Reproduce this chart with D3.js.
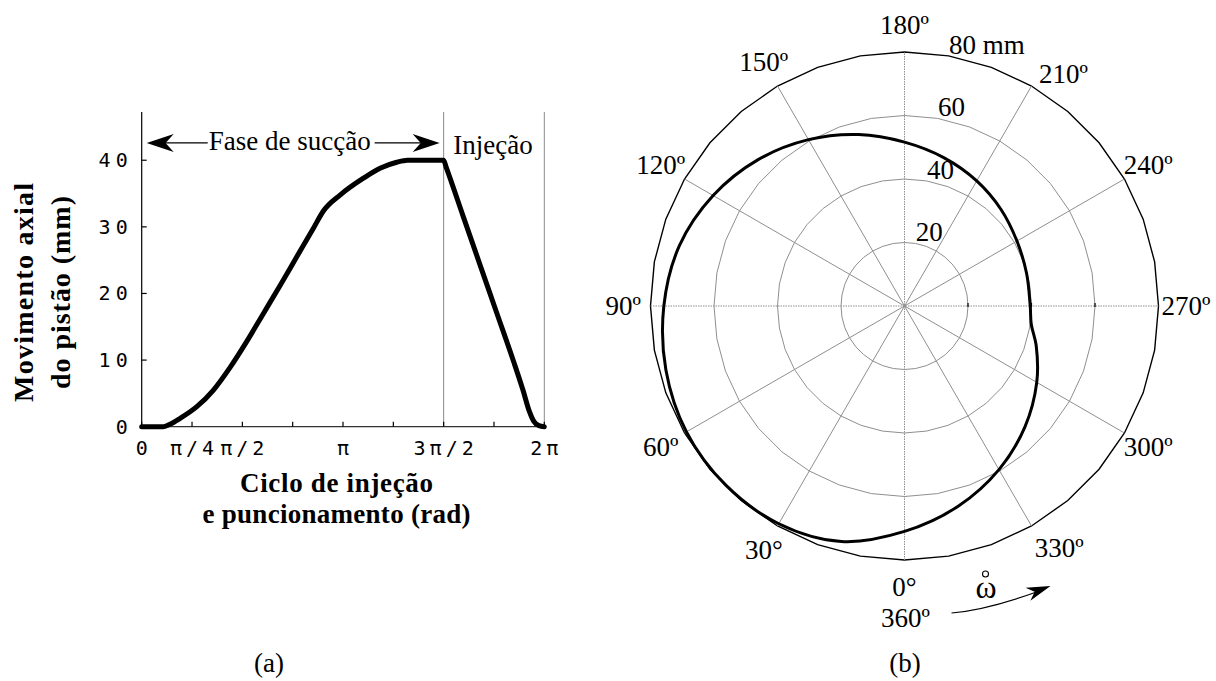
<!DOCTYPE html>
<html>
<head>
<meta charset="utf-8">
<script src="https://cdn.jsdelivr.net/npm/d3@7"></script>
<style>
  body { margin: 0; background: #fff; }
  svg { display: block; background: #fff; }
  .serif { font-family: "Liberation Serif", "Times New Roman", serif; }
  .mono { font-family: "DejaVu Sans Mono", "Liberation Mono", monospace; }
</style>
</head>
<body>
<svg id="fig" width="1216" height="681"></svg>
<script>
// ---------- Panel (a): axial piston displacement over one cycle ----------
const cycleAngle = [0, 0.34, 0.45, 0.60, 0.86, 1.12, 1.38, 1.64, 1.90, 2.16, 2.42, 2.68, 2.83,
                    3.10, 3.46, 3.72, 3.98, 4.15, 4.712, 4.75, 5.02, 5.28, 5.54, 5.80, 5.95,
                    6.05, 6.12, 6.20, 6.283];
const displacementMm = [0, 0, 0.4, 1.25, 3.0, 5.5, 8.9, 12.8, 17.0, 21.2, 25.5, 29.8, 32.3,
                        34.8, 37.3, 38.8, 39.7, 40, 40, 39.0, 31.5, 24.3, 17.1, 9.9, 5.5,
                        2.3, 0.8, 0.15, 0];
const yTicks = [0, 10, 20, 30, 40];
const xMinorTicks = d3.range(0, 9).map(k => k * Math.PI / 4);
const xLabelValues = [0, Math.PI / 4, Math.PI / 2, Math.PI, 3 * Math.PI / 2, 2 * Math.PI];
const xLabelText = ["0", "π/4", "π/2", "π", "3π/2", "2π"];
const phaseBounds = [0, 3 * Math.PI / 2, 2 * Math.PI];
const phaseNames = ["Fase de sucção", "Injeção"];
const yTitleLines = ["Movimento axial", "do pistão (mm)"];
const xTitleLines = ["Ciclo de injeção", "e puncionamento (rad)"];

// ---------- Panel (b): polar trace of the radial position ----------
const crankDeg = [0, 15, 30, 45, 60, 75, 90, 105, 120, 135, 150, 165, 180, 195, 210, 225,
                  240, 255, 270, 278, 287, 300, 315, 330, 345];
const radiusMm = [71.0, 76.8, 79.2, 79.7, 79.3, 77.8, 75.8, 73.4, 69.6, 65.2, 60.5, 55.9,
                  51.6, 48.3, 45.5, 43.0, 40.9, 39.8, 39.6, 40.3, 43.4, 48.1, 53.7, 59.5, 65.3];
const ringValues = [20, 40, 60, 80];
const ringLabels = ["20", "40", "60", "80 mm"];
const spokeAngles = [0, 30, 60, 90, 120, 150];
const angleLabelDeg = [0, 30, 60, 90, 120, 150, 180, 210, 240, 270, 300, 330];
const angleLabelText = ["0°", "30°", "60º", "90º", "120º", "150º", "180º", "210º", "240º",
                        "270º", "300º", "330º"];

const svg = d3.select("#fig");
const serifSize = 27;

// ================= Panel (a) =================
const A = { left: 141.7, right: 544.3, top: 112, bottom: 426.7 };
const x = d3.scaleLinear().domain([0, 2 * Math.PI]).range([A.left, A.right]);
const y = d3.scaleLinear().domain([0, 47.24]).range([A.bottom, A.top]);

const ga = svg.append("g");

// phase boundary lines
ga.selectAll("line.bound").data(phaseBounds.slice(1)).join("line")
  .attr("x1", d => x(d)).attr("x2", d => x(d))
  .attr("y1", y(0)).attr("y2", y.range()[1])
  .attr("stroke", "#8a8a8a").attr("stroke-width", 1);

// axis lines
ga.append("line").attr("x1", x(0)).attr("x2", x(0)).attr("y1", y(0)).attr("y2", y.range()[1])
  .attr("stroke", "#000").attr("stroke-width", 1.2);
ga.append("line").attr("x1", x(0)).attr("x2", x(2 * Math.PI)).attr("y1", y(0)).attr("y2", y(0))
  .attr("stroke", "#333").attr("stroke-width", 1.2);

// inward ticks
ga.selectAll("line.xt").data(xMinorTicks).join("line")
  .attr("x1", d => x(d)).attr("x2", d => x(d))
  .attr("y1", y(0)).attr("y2", y(0) - 5)
  .attr("stroke", "#000").attr("stroke-width", 1.2);
ga.selectAll("line.yt").data(yTicks).join("line")
  .attr("x1", x(0)).attr("x2", x(0) + 5)
  .attr("y1", d => y(d)).attr("y2", d => y(d))
  .attr("stroke", "#000").attr("stroke-width", 1.2);

// tick labels
ga.selectAll("text.yl").data(yTicks).join("text")
  .attr("class", "mono")
  .attr("x", x(0) - 9).attr("y", d => y(d))
  .attr("text-anchor", "end").attr("dominant-baseline", "central")
  .attr("font-size", 20).attr("letter-spacing", 5)
  .text(d => d);
ga.selectAll("text.xl").data(xLabelValues).join("text")
  .attr("class", "mono")
  .attr("x", d => x(d) + 2).attr("y", y(0) + 21)
  .attr("text-anchor", "middle").attr("dominant-baseline", "central")
  .attr("font-size", 20).attr("letter-spacing", 4)
  .text((d, i) => xLabelText[i]);

// displacement curve
const curveA = d3.line()
  .x((d, i) => x(cycleAngle[i]))
  .y(d => y(d))
  .curve(d3.curveMonotoneX);
ga.append("path").datum(displacementMm)
  .attr("d", curveA)
  .attr("fill", "none").attr("stroke", "#000").attr("stroke-width", 5)
  .attr("stroke-linejoin", "round").attr("stroke-linecap", "round");

// phase annotations
function dart(g, tipX, tipY, angleDeg, len, wid) {
  g.append("path")
    .attr("d", `M0,0 L${-len},${-wid / 2} L${-len * 0.7},0 L${-len},${wid / 2} Z`)
    .attr("transform", `translate(${tipX},${tipY}) rotate(${angleDeg})`)
    .attr("fill", "#000");
}
const annY = y(42.6);
const suctionMid = (x(phaseBounds[0]) + x(phaseBounds[1])) / 2 - 3;
const suction = ga.append("text").attr("class", "serif")
  .attr("x", suctionMid).attr("y", annY + 7)
  .attr("text-anchor", "middle").attr("font-size", serifSize)
  .text(phaseNames[0]);
const sw = suction.node().getComputedTextLength();
const tipL = x(phaseBounds[0]) + 5, tipR = x(phaseBounds[1]) - 4;
ga.append("line").attr("x1", tipL + 10).attr("x2", suctionMid - sw / 2 - 1)
  .attr("y1", annY).attr("y2", annY).attr("stroke", "#000").attr("stroke-width", 1.2);
ga.append("line").attr("x1", suctionMid + sw / 2 + 4).attr("x2", tipR - 10)
  .attr("y1", annY).attr("y2", annY).attr("stroke", "#000").attr("stroke-width", 1.2);
dart(ga, tipL, annY, 180, 27, 18);
dart(ga, tipR, annY, 0, 27, 18);
ga.append("text").attr("class", "serif")
  .attr("x", (x(phaseBounds[1]) + x(phaseBounds[2])) / 2 - 1).attr("y", annY + 11)
  .attr("text-anchor", "middle").attr("font-size", serifSize)
  .text(phaseNames[1]);

// axis titles
const yTitle = ga.append("g").attr("transform", `translate(0,292.5) rotate(-90)`);
const yTitleBase = [33, 70], yTitleLen = [219, 193];
yTitleLines.forEach((t, i) => {
  yTitle.append("text").attr("class", "serif")
    .attr("x", 0).attr("y", yTitleBase[i])
    .attr("text-anchor", "middle").attr("font-size", 28).attr("font-weight", "bold")
    .attr("textLength", yTitleLen[i]).attr("lengthAdjust", "spacing")
    .text(t);
});
const xTitleBase = [492, 523], xTitleLen = [193, 268];
xTitleLines.forEach((t, i) => {
  ga.append("text").attr("class", "serif")
    .attr("x", 336.5).attr("y", xTitleBase[i])
    .attr("text-anchor", "middle").attr("font-size", 27).attr("font-weight", "bold")
    .attr("textLength", xTitleLen[i]).attr("lengthAdjust", "spacing")
    .text(t);
});
ga.append("text").attr("class", "serif")
  .attr("x", 269).attr("y", 672).attr("text-anchor", "middle").attr("font-size", serifSize)
  .text("(a)");

// ================= Panel (b) =================
const C = { x: 904.5, y: 306 };
const R = 254;
const r = d3.scaleLinear().domain([0, 80]).range([0, R]);
const toRad = deg => (deg + 180) * Math.PI / 180;   // 0° at bottom, increasing clockwise
const px = (deg, rad) => C.x + rad * Math.sin(toRad(deg));
const py = (deg, rad) => C.y - rad * Math.cos(toRad(deg));

const gb = svg.append("g");

// grid rings (polygonal circles)
const ringLine = d3.lineRadial().curve(d3.curveLinearClosed);
const ringPts = v => d3.range(0, 360, 10).map(a => [a * Math.PI / 180, r(v)]);
gb.selectAll("path.ring").data(ringValues).join("path")
  .attr("transform", `translate(${C.x},${C.y})`)
  .attr("d", v => ringLine(ringPts(v)))
  .attr("fill", "none")
  .attr("stroke", v => v === 80 ? "#000" : "#8f8f8f")
  .attr("stroke-width", v => v === 80 ? 1.4 : 1);

// spokes
gb.selectAll("line.spoke").data(spokeAngles).join("line")
  .attr("x1", a => px(a, R)).attr("y1", a => py(a, R))
  .attr("x2", a => px(a + 180, R)).attr("y2", a => py(a + 180, R))
  .attr("stroke", "#8f8f8f").attr("stroke-width", 1)
  .attr("stroke-dasharray", a => (a % 90 === 0) ? "1.5,1" : null);

// small ring ticks on the 270° axis
gb.selectAll("line.rt").data(ringValues.slice(0, 3)).join("line")
  .attr("x1", v => px(270, r(v))).attr("x2", v => px(270, r(v)))
  .attr("y1", C.y - 3).attr("y2", C.y + 1)
  .attr("stroke", "#000").attr("stroke-width", 1.2);

// ring labels
gb.selectAll("text.rl").data(ringValues).join("text")
  .attr("class", "serif")
  .attr("x", v => px(190, r(v) + 2)).attr("y", v => py(190, r(v) + 2))
  .attr("font-size", serifSize)
  .text((v, i) => ringLabels[i]);

// angle labels (a couple are eased sideways to clear neighbouring text)
const labelTurn = { 210: 4.4, 330: -2.6 };
const labelR = R * 1.108;
gb.selectAll("text.al").data(angleLabelDeg).join("text")
  .attr("class", "serif")
  .attr("x", a => px(a + (labelTurn[a] || 0), labelR * (a === 330 ? 1.02 : 1)))
  .attr("y", a => py(a + (labelTurn[a] || 0), labelR * (a === 330 ? 1.02 : 1)))
  .attr("text-anchor", "middle").attr("dominant-baseline", "central")
  .attr("font-size", serifSize)
  .text((a, i) => angleLabelText[i]);
gb.append("text").attr("class", "serif")
  .attr("x", px(0, labelR) + 1).attr("y", py(0, labelR) + 31)
  .attr("text-anchor", "middle").attr("dominant-baseline", "central")
  .attr("font-size", serifSize).text("360º");

// polar trace
const trace = d3.lineRadial()
  .angle((d, i) => toRad(crankDeg[i]))
  .radius(d => r(d))
  .curve(d3.curveCatmullRomClosed.alpha(0.5));
gb.append("path").datum(radiusMm)
  .attr("transform", `translate(${C.x},${C.y})`)
  .attr("d", trace)
  .attr("fill", "none").attr("stroke", "#000").attr("stroke-width", 3)
  .attr("stroke-linejoin", "round");

// rotation direction marker
gb.append("text").attr("class", "serif")
  .attr("x", C.x + 81.5).attr("y", C.y + 281)
  .attr("text-anchor", "middle").attr("dominant-baseline", "central")
  .attr("font-size", 32).text("ω");
gb.append("circle").attr("cx", C.x + 81).attr("cy", C.y + 268).attr("r", 3)
  .attr("fill", "none").attr("stroke", "#000").attr("stroke-width", 1.1);
gb.append("path")
  .attr("d", `M${C.x + 47},${C.y + 307} Q${C.x + 82},${C.y + 304} ${C.x + 132},${C.y + 286}`)
  .attr("fill", "none").attr("stroke", "#000").attr("stroke-width", 1.2);
dart(gb, C.x + 146, C.y + 280, -20, 24, 14);

gb.append("text").attr("class", "serif")
  .attr("x", C.x + 0.5).attr("y", 672).attr("text-anchor", "middle").attr("font-size", serifSize)
  .text("(b)");
</script>
</body>
</html>
